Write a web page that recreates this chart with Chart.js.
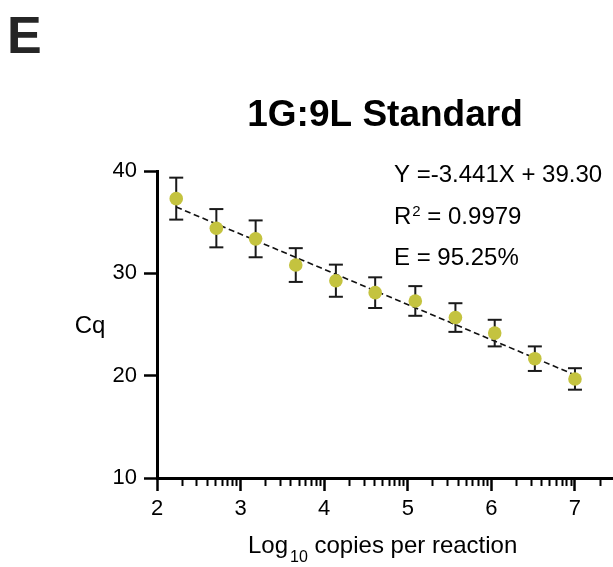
<!DOCTYPE html>
<html><head><meta charset="utf-8">
<script src="https://cdn.jsdelivr.net/npm/chart.js@4.4.1/dist/chart.umd.min.js"></script>
<style>html,body{margin:0;padding:0;background:#fff;} canvas{display:block;}</style>
</head><body>
<canvas id="c" width="613" height="567"></canvas>
<script>
// ---- data ----
const logCopies = [2.23, 2.71, 3.18, 3.66, 4.14, 4.61, 5.09, 5.57, 6.04, 6.52, 7.00];
const cqMean    = [37.30, 34.41, 33.37, 30.81, 29.28, 28.11, 27.30, 25.68, 24.16, 21.66, 19.68];
const cqSD      = [2.05, 1.87, 1.80, 1.65, 1.57, 1.50, 1.45, 1.40, 1.30, 1.20, 1.05];
const fitX      = [2.23, 7.00];
const fitY      = [36.48, 20.07];
const xTickLabels = [2, 3, 4, 5, 6, 7];
const yTickLabels = [10, 20, 30, 40];
const minorMultipliers = [2, 3, 4, 5, 6, 7, 8, 9];
const chartTitle = '1G:9L Standard';
const panelLabel = 'E';
const eqText = 'Y =-3.441X + 39.30';
const r2Text = ' = 0.9979';
const effText = 'E = 95.25%';
const yTitle = 'Cq';
const xTitleParts = ['Log', '10', ' copies per reaction'];

const FONT = '"Liberation Sans", Arial, Helvetica, sans-serif';
const X_MIN = 2, X_MAX = 7.455;

const pointData = logCopies.map((x, i) => ({x, y: cqMean[i]}));
const errData = [];
logCopies.forEach((x, i) => {
  errData.push({x, y: cqMean[i] - cqSD[i]});
  errData.push({x, y: cqMean[i] + cqSD[i]});
  errData.push({x, y: null});
});
const fitData = fitX.map((x, i) => ({x, y: fitY[i]}));

const minorTicks = [];
xTickLabels.forEach(d => minorMultipliers.forEach(m => {
  const v = d + Math.log10(m);
  if (v < X_MAX) minorTicks.push(v);
}));

const textPlugin = {
  id: 'texts',
  afterDraw(chart) {
    const ctx = chart.ctx;
    ctx.save();
    ctx.fillStyle = '#262626';
    ctx.textAlign = 'left';
    ctx.textBaseline = 'alphabetic';
    ctx.font = 'bold 52px ' + FONT;
    ctx.fillText(panelLabel, 7, 53);

    ctx.fillStyle = '#000';
    ctx.font = '24px ' + FONT;
    ctx.textAlign = 'center';
    ctx.fillText(yTitle, 90, 333);

    ctx.textAlign = 'left';
    ctx.fillText(eqText, 394, 182);
    ctx.fillText('R', 394, 224);
    let w = ctx.measureText('R').width;
    ctx.font = '15px ' + FONT;
    ctx.fillText('2', 394 + w + 1, 216);
    let w2 = ctx.measureText('2').width;
    ctx.font = '24px ' + FONT;
    ctx.fillText(r2Text, 394 + w + 1 + w2, 224);
    ctx.fillText(effText, 394, 265);

    // x axis title with subscript
    let x = 248;
    ctx.font = '24px ' + FONT;
    ctx.fillText(xTitleParts[0], x, 553);
    x += ctx.measureText(xTitleParts[0]).width + 2;
    ctx.font = '16px ' + FONT;
    ctx.fillText(xTitleParts[1], x, 562);
    x += ctx.measureText(xTitleParts[1]).width;
    ctx.font = '24px ' + FONT;
    ctx.fillText(xTitleParts[2], x, 553);
    ctx.restore();
  }
};

new Chart(document.getElementById('c'), {
  type: 'scatter',
  data: {
    datasets: [
      {
        label: 'Cq', data: pointData, order: 0,
        backgroundColor: '#c4c33f', borderColor: '#c4c33f', borderWidth: 0,
        pointRadius: 6.8, pointHoverRadius: 6.8
      },
      {
        label: 'SD', data: errData, order: 1, showLine: true, spanGaps: false,
        borderColor: '#1a1a1a', borderWidth: 2,
        pointStyle: 'line', pointRadius: 7, pointBorderWidth: 2, pointBorderColor: '#1a1a1a',
        pointHoverRadius: 7
      },
      {
        label: 'Fit', data: fitData, order: 2, showLine: true,
        borderColor: '#111', borderWidth: 1.6, borderDash: [6, 3.5],
        pointRadius: 0, pointHoverRadius: 0
      }
    ]
  },
  options: {
    responsive: false,
    animation: false,
    devicePixelRatio: 1,
    layout: { autoPadding: false, padding: { left: 0, right: 0, top: 0, bottom: 0 } },
    plugins: {
      legend: { display: false },
      tooltip: { enabled: false },
      title: {
        display: true, text: chartTitle, fullSize: false, align: 'center',
        color: '#000', font: { family: FONT, size: 37, weight: 'bold' },
        padding: { top: 94, bottom: 32.6 }
      }
    },
    scales: {
      x: {
        type: 'linear', position: 'bottom', min: X_MIN, max: X_MAX,
        afterBuildTicks: s => { s.ticks = xTickLabels.map(v => ({value: v})); },
        afterFit: s => { s.height = 89; s.paddingLeft = 0; s.paddingRight = 0; },
        grid: { drawOnChartArea: false, drawTicks: true, tickLength: 13, tickWidth: 2.5, tickColor: '#000' },
        border: { display: true, color: '#000', width: 3 },
        ticks: { color: '#000', font: { family: FONT, size: 22 }, padding: 5, maxRotation: 0, autoSkip: false,
                 callback: v => String(v) },
        title: { display: false }
      },
      xMinor: {
        type: 'linear', axis: 'x', position: { y: 10 }, min: X_MIN, max: X_MAX,
        afterBuildTicks: s => { s.ticks = minorTicks.map(v => ({value: v})); },
        afterFit: s => { s.paddingLeft = 0; s.paddingRight = 0; },
        grid: { drawOnChartArea: false, drawTicks: true, tickLength: 8, tickWidth: 2, tickColor: '#000' },
        border: { display: false },
        ticks: { display: false, autoSkip: false }
      },
      y: {
        type: 'linear', position: 'left', min: 10, max: 40,
        afterBuildTicks: s => { s.ticks = yTickLabels.map(v => ({value: v})); },
        afterFit: s => { s.width = 157; },
        grid: { drawOnChartArea: false, drawTicks: true, tickLength: 13, tickWidth: 2.5, tickColor: '#000' },
        border: { display: true, color: '#000', width: 3 },
        ticks: { color: '#000', font: { family: FONT, size: 22 }, padding: 7, autoSkip: false },
        title: { display: false }
      }
    }
  },
  plugins: [textPlugin]
});
</script>
</body></html>
